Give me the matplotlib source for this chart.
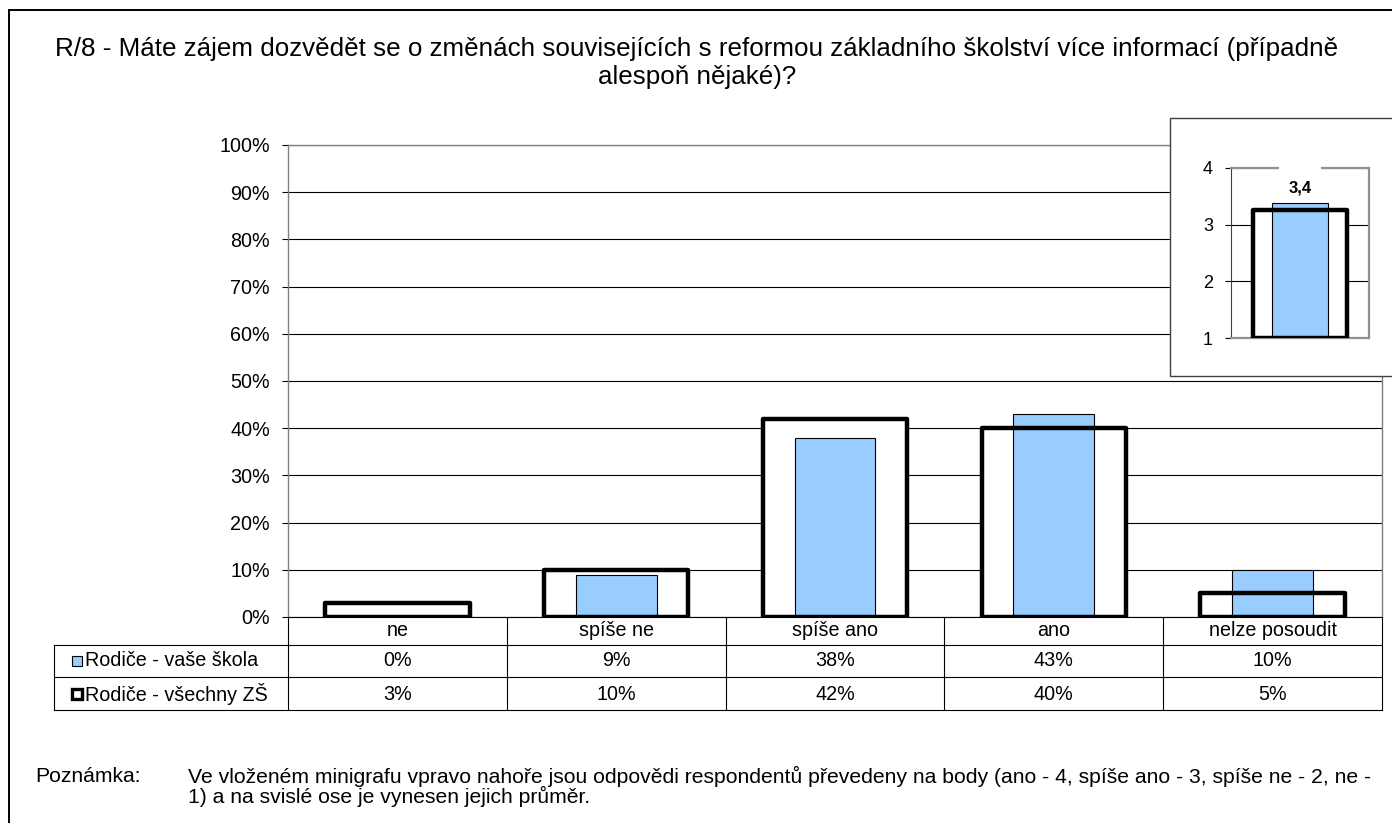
import numpy as np
import matplotlib.pyplot as plt
import matplotlib.patches as mpatches
from matplotlib.ticker import FuncFormatter

plt.rcParams["font.family"] = ["Liberation Sans", "DejaVu Sans"]

categories = ["ne", "spíše ne", "spíše ano", "ano", "nelze posoudit"]
school_pct = [0, 9, 38, 43, 10]
all_pct = [3, 10, 42, 40, 5]
series_names = ["Rodiče - vaše škola", "Rodiče - všechny ZŠ"]
mean_school = 3.38
mean_all = 3.26
yticks_main = list(range(0, 101, 10))
yticks_mini = [1, 2, 3, 4]

title = ("R/8 - Máte zájem dozvědět se o změnách souvisejících s reformou základního školství více informací (případně\n"
         "alespoň nějaké)?")
note_head = "Poznámka:"
note_text = ("Ve vloženém minigrafu vpravo nahoře jsou odpovědi respondentů převedeny na body (ano - 4, spíše ano - 3, spíše ne - 2, ne -\n"
             "1) a na svislé ose je vynesen jejich průměr.")

BLUE = "#99CCFF"
W, H = 1392, 823

fig = plt.figure(figsize=(W / 100, H / 100), dpi=100)
fig.patch.set_facecolor("white")

# outer frame
fig.patches.append(mpatches.Rectangle((9 / W, -0.05), 1.2, 1 - 10 / H + 0.05,
                                      transform=fig.transFigure, fill=False,
                                      edgecolor="black", lw=1.4, zorder=0))

fig.text(697 / W, 1 - 63 / H, title, ha="center", va="center", fontsize=18.7,
         linespacing=1.26)

# main chart
ax = fig.add_axes([288 / W, 1 - 617 / H, (1382 - 288) / W, (617 - 145) / H])
x = np.arange(len(categories))
ax.bar(x, all_pct, width=0.66, color="white", edgecolor="none", zorder=2)
ax.bar(x, school_pct, width=0.37, color=BLUE, edgecolor="black", lw=0.8, zorder=3)
ax.bar(x, all_pct, width=0.66, fill=False, edgecolor="black", lw=3.2,
       joinstyle="round", zorder=4)

ax.set_xlim(-0.5, len(categories) - 0.5)
ax.set_ylim(0, 100)
ax.set_yticks(yticks_main)
ax.yaxis.set_major_formatter(FuncFormatter(lambda v, p: f"{v:.0f}%"))
ax.tick_params(axis="y", length=4, width=0.8, pad=9, labelsize=14.2)
ax.set_xticks([])
ax.grid(axis="y", color="black", lw=0.8, zorder=1)
ax.set_axisbelow(True)
for s in ["left", "top", "right"]:
    ax.spines[s].set_color("#808080")
    ax.spines[s].set_linewidth(1.0)
ax.spines["bottom"].set_color("black")

# data table under the chart
ph = 617 - 145
row_lines = [-(645 - 617) / ph, -(677 - 617) / ph, -(710 - 617) / ph]
row_mid = [-(631 - 617) / ph, -(661 - 617) / ph, -(694 - 617) / ph]
left_col = (54 - 288) / (1382 - 288)
xt = ax.get_xaxis_transform()

for yl in row_lines:
    ax.plot([left_col, 1], [yl, yl], transform=ax.transAxes, color="black", lw=0.8, clip_on=False)
ax.plot([left_col, left_col], [row_lines[0], row_lines[2]], transform=ax.transAxes,
        color="black", lw=0.8, clip_on=False)
for b in np.arange(-0.5, len(categories), 1.0):
    ax.plot([b, b], [0, row_lines[2]], transform=xt, color="black", lw=0.8, clip_on=False)

for i, c in enumerate(categories):
    ax.text(i, row_mid[0], c, transform=xt, ha="center", va="center", fontsize=14.2)
    ax.text(i, row_mid[1], f"{school_pct[i]}%", transform=xt, ha="center", va="center", fontsize=14.2)
    ax.text(i, row_mid[2], f"{all_pct[i]}%", transform=xt, ha="center", va="center", fontsize=14.2)

key_x = (77 - 288) / (1382 - 288)
lab_x = (85 - 288) / (1382 - 288)
ax.plot([key_x], [row_mid[1]], marker="s", ms=6.5, mfc=BLUE, mec="black", mew=0.8,
        transform=ax.transAxes, clip_on=False)
ax.plot([key_x], [row_mid[2]], marker="s", ms=6.5, mfc="white", mec="black", mew=2.4,
        transform=ax.transAxes, clip_on=False)
ax.text(lab_x, row_mid[1], series_names[0], transform=ax.transAxes, ha="left", va="center", fontsize=14.2)
ax.text(lab_x, row_mid[2], series_names[1], transform=ax.transAxes, ha="left", va="center", fontsize=14.2)

# inset box
fig.patches.append(mpatches.Rectangle((1170 / W, 1 - 376 / H), 0.3, (376 - 118) / H,
                                      transform=fig.transFigure, facecolor="white",
                                      edgecolor="#404040", lw=1.0, zorder=2))

ax2 = fig.add_axes([1231 / W, 1 - 338.3 / H, (1369 - 1231) / W, (338.3 - 167.7) / H], zorder=5)
ax2.bar([0], [mean_all - 1], bottom=1, width=0.68, color="white", edgecolor="none", zorder=2)
ax2.bar([0], [mean_school - 1], bottom=1, width=0.40, color=BLUE, edgecolor="black", lw=0.8, zorder=3)
ax2.bar([0], [mean_all - 1], bottom=1, width=0.68, fill=False, edgecolor="black", lw=3.2,
        joinstyle="round", zorder=4)
ax2.set_xlim(-0.5, 0.5)
ax2.set_ylim(1, 4)
ax2.set_yticks(yticks_mini)
ax2.set_xticks([])
ax2.tick_params(axis="y", length=4, width=0.8, pad=9, labelsize=13)
ax2.grid(axis="y", color="black", lw=0.8, zorder=1)
ax2.set_axisbelow(True)
for s in ["top", "right", "bottom"]:
    ax2.spines[s].set_color("#909090")
    ax2.spines[s].set_linewidth(1.6)
ax2.spines["left"].set_color("#404040")
ax2.text(0, 3.65, f"{mean_school:.1f}".replace(".", ","), ha="center", va="center",
         fontsize=12, fontweight="bold", zorder=6)
# gap in top frame above label, as in the original
ax2.add_patch(mpatches.Rectangle((-0.15, 3.9), 0.3, 0.2, facecolor="white", edgecolor="none",
                                 clip_on=False, zorder=6))

# note
fig.text(35 / W, 1 - 777 / H, note_head, ha="left", va="center", fontsize=15.2)
fig.text(188 / W, 1 - 766 / H, note_text, ha="left", va="top", fontsize=15.2,
         linespacing=0.95)

fig.savefig("out.png", dpi=100, facecolor="white")
